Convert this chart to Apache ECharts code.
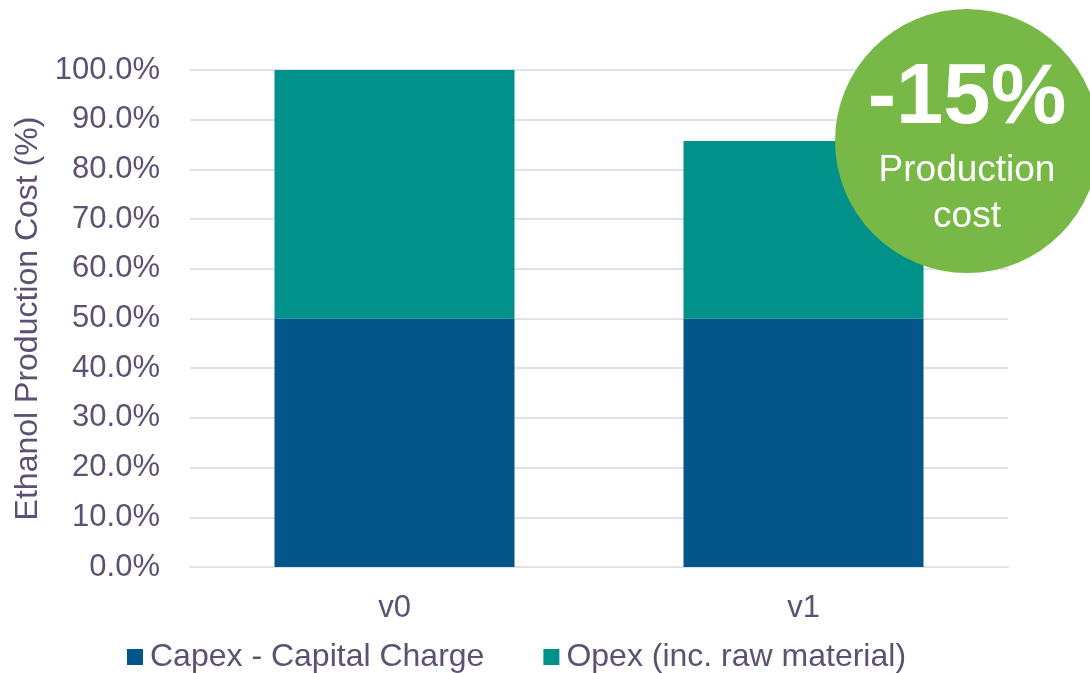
<!DOCTYPE html>
<html>
<head>
<meta charset="utf-8">
<script src="https://cdn.jsdelivr.net/npm/echarts@6/dist/echarts.min.js"></script>
<style>
  html, body { margin: 0; padding: 0; background: #fff; }
  #main { width: 1090px; height: 673px; }
</style>
</head>
<body>
<div id="main"></div>
<script>
var categories = ['v0', 'v1'];
var capex = [50, 50];
var opex = [50, 35.7];
var seriesNames = ['Capex - Capital Charge', 'Opex (inc. raw material)'];
var badgeLines = ['-15%', 'Production', 'cost'];

var textColor = '#5e5072';
var gridColor = '#e3e1e8';
var font = 'Liberation Sans, Arial, sans-serif';

var myChart = echarts.init(document.getElementById('main'));
myChart.setOption({
    animation: false,
    grid: { left: 190, right: 82, top: 70, bottom: 106 },
    legend: {
        left: 127,
        top: 641,
        padding: 0,
        itemWidth: 16,
        itemHeight: 16,
        itemGap: 59,
        icon: 'rect',
        textStyle: { color: textColor, fontSize: 32, fontFamily: font, padding: [0, 0, 0, 2] },
        data: seriesNames
    },
    xAxis: {
        type: 'category',
        data: categories,
        axisLine: { lineStyle: { color: gridColor, width: 2 } },
        axisTick: { show: false },
        axisLabel: { color: textColor, fontSize: 31, fontFamily: font, margin: 26 }
    },
    yAxis: {
        type: 'value',
        min: 0,
        max: 100,
        interval: 10,
        name: 'Ethanol Production Cost (%)',
        nameLocation: 'middle',
        nameGap: 146,
        nameTextStyle: { color: textColor, fontSize: 32, fontFamily: font },
        axisLabel: {
            color: textColor, fontSize: 31, fontFamily: font, margin: 30,
            formatter: function (v) { return v.toFixed(1) + '%'; }
        },
        splitLine: { lineStyle: { color: gridColor, width: 2 } }
    },
    series: [
        {
            name: seriesNames[0],
            type: 'bar',
            stack: 'cost',
            barWidth: 240,
            itemStyle: { color: '#02568a' },
            data: capex
        },
        {
            name: seriesNames[1],
            type: 'bar',
            stack: 'cost',
            barWidth: 240,
            itemStyle: { color: '#00918a' },
            data: opex
        }
    ],
    graphic: [
        {
            type: 'circle',
            z: 100,
            shape: { cx: 967, cy: 141, r: 132 },
            style: { fill: '#78b846' }
        },
        {
            type: 'text',
            z: 101,
            style: { x: 967, y: 100, text: badgeLines[0], fill: '#fff', font: 'bold 85px ' + font, align: 'center', verticalAlign: 'middle' }
        },
        {
            type: 'text',
            z: 101,
            style: { x: 967, y: 171, text: badgeLines[1], fill: '#fff', font: '37px ' + font, align: 'center', verticalAlign: 'middle' }
        },
        {
            type: 'text',
            z: 101,
            style: { x: 967, y: 217, text: badgeLines[2], fill: '#fff', font: '37px ' + font, align: 'center', verticalAlign: 'middle' }
        }
    ]
});
</script>
</body>
</html>
